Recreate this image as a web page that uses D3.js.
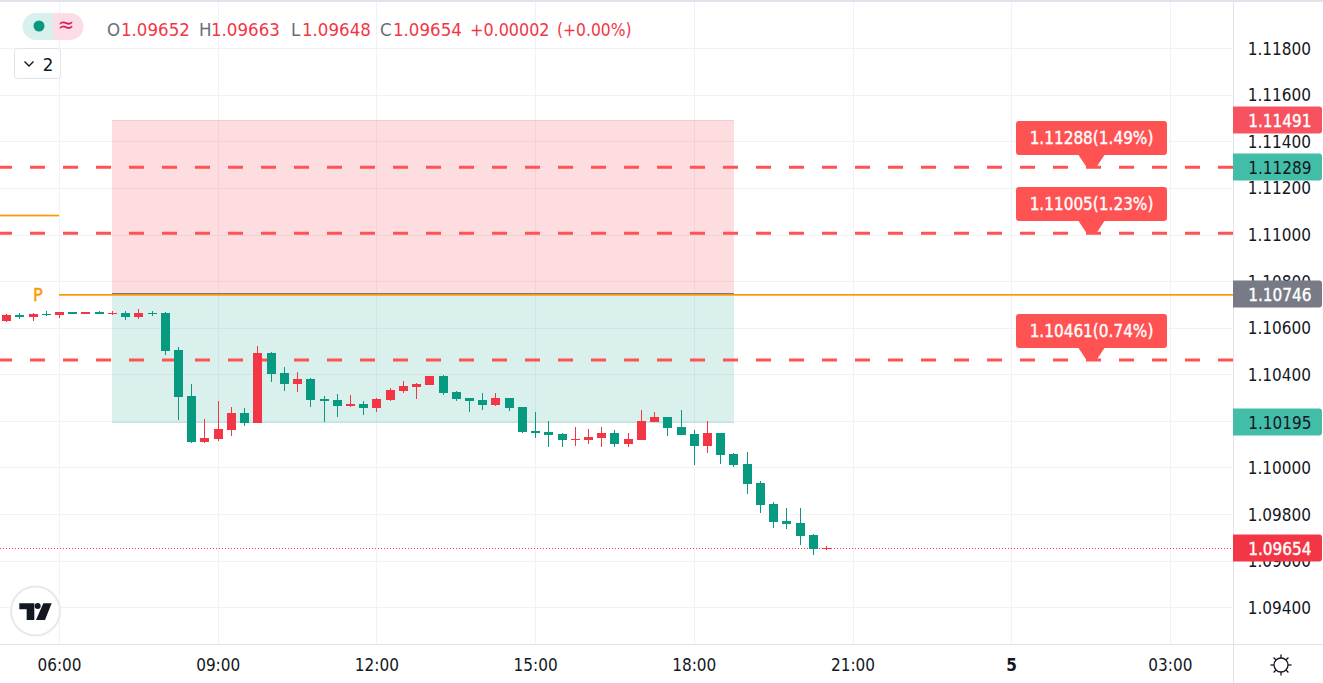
<!DOCTYPE html>
<html><head><meta charset="utf-8">
<script src="https://cdnjs.cloudflare.com/ajax/libs/d3/7.8.5/d3.min.js"></script>
<style>html,body{margin:0;padding:0;background:#fff;overflow:hidden}svg{display:block}text{font-family:"DejaVu Sans Condensed","DejaVu Sans",sans-serif;font-stretch:condensed}</style>
</head><body><svg id="c" width="1323" height="683"></svg>
<script>
// Data: 15-minute candles starting at 05:00, prices in units of 1e-5
const opens=[110629,110655,110646,110659,110655,110667,110659,110667,110659,110663,110646,110663,110663,110504,110307,110110,110122,110161,110234,110191,110491,110406,110358,110380,110294,110290,110264,110273,110255,110290,110328,110346,110354,110393,110324,110298,110290,110268,110298,110260,110157,110153,110144,110118,110118,110127,110148,110101,110118,110195,110217,110174,110144,110092,110148,110058,110015,109934,109843,109771,109762,109710,109652];
const highs=[110659,110663,110663,110672,110667,110667,110667,110672,110672,110672,110680,110672,110667,110517,110358,110208,110286,110260,110255,110522,110496,110431,110410,110384,110307,110316,110311,110286,110298,110341,110371,110363,110393,110397,110328,110298,110320,110320,110298,110260,110238,110200,110148,110174,110165,110174,110161,110148,110247,110238,110217,110247,110161,110200,110148,110062,110067,109942,109852,109826,109826,109715,109663];
const lows=[110625,110637,110629,110650,110642,110659,110659,110659,110655,110633,110637,110650,110483,110204,110105,110105,110114,110135,110178,110191,110367,110328,110324,110260,110195,110217,110260,110225,110238,110286,110320,110294,110354,110311,110286,110238,110247,110264,110243,110148,110127,110088,110088,110092,110101,110088,110088,110088,110118,110195,110135,110140,110011,110062,110015,110002,109886,109805,109741,109736,109667,109624,109648];
const closes=[110655,110646,110659,110655,110667,110659,110667,110659,110663,110646,110663,110659,110500,110303,110110,110127,110165,110234,110191,110491,110401,110358,110380,110290,110286,110264,110273,110255,110294,110333,110350,110358,110393,110320,110294,110286,110268,110298,110255,110153,110148,110140,110118,110122,110131,110148,110101,110122,110200,110217,110170,110140,110092,110148,110054,110011,109929,109839,109766,109758,109706,109650,109654];
const firstHour=5, stepHours=0.25;

const priceTicks=[1.118,1.116,1.114,1.112,1.11,1.108,1.106,1.104,1.102,1.1,1.098,1.096,1.094];
const timeTicks=[6,9,12,15,18,21,24,27];
const timeLabels=["06:00","09:00","12:00","15:00","18:00","21:00","5","03:00"];

const targetPrices=[1.11289,1.11005,1.10461];
const targetLabels=["1.11288(1.49%)","1.11005(1.23%)","1.10461(0.74%)"];
const position={start:7,end:18.75,top:1.11491,entry:1.10746,stop:1.10195};
const pivotPrice=1.10746, priorPivot=1.11084;
const priceTags=[
 {p:1.11491,t:"1.11491",bg:"#f7525f",fg:"#fff"},
 {p:1.11289,t:"1.11289",bg:"#42bda8",fg:"#131722"},
 {p:1.10746,t:"1.10746",bg:"#787b86",fg:"#fff"},
 {p:1.10195,t:"1.10195",bg:"#42bda8",fg:"#131722"},
 {p:1.09654,t:"1.09654",bg:"#f23645",fg:"#fff"}];
const legendParts=[["O","#6a6d78",107,18.5],["1.09652","#f23645",121,18.5],["H","#6a6d78",199,18.5],["1.09663","#f23645",211,18.5],["L","#6a6d78",291,18.5],["1.09648","#f23645",302,18.5],["C","#6a6d78",380,18.5],["1.09654","#f23645",393,18.5],["+0.00002","#f23645",470,17.8],["(+0.00%)","#f23645",557,17.3]];

const W=1233,H=644;
const x=d3.scaleLinear().domain([6,27]).range([59.5,1170.4]);
const y=d3.scaleLinear().domain([1.094,1.118]).range([607.3,48.1]);
const px=v=>Math.round(y(v));
const GREEN="#089981",RED="#f23645",LAB="#ff5252",ORANGE="#ff9800",GRID="#f0f2f5",LINE="#e0e3eb",INK="#131722";
const svg=d3.select("#c");
svg.append("rect").attr("width",1323).attr("height",2).attr("fill",LINE);

// grid
const grid=svg.append("g").attr("shape-rendering","crispEdges");
grid.selectAll(".h").data(priceTicks).join("line").attr("x1",0).attr("x2",W)
 .attr("y1",d=>px(d)+.5).attr("y2",d=>px(d)+.5).attr("stroke",GRID);
grid.selectAll(".v").data(timeTicks).join("line").attr("y1",2).attr("y2",H)
 .attr("x1",d=>Math.floor(x(d))+.5).attr("x2",d=>Math.floor(x(d))+.5).attr("stroke",GRID);

// position zones
const z=svg.append("g").attr("shape-rendering","crispEdges");
const zx=x(position.start),zw=x(position.end)-zx;
z.append("rect").attr("x",zx).attr("width",zw).attr("y",px(position.top)).attr("height",px(position.entry)-px(position.top))
 .attr("fill","#f23645").attr("fill-opacity",.17);
z.append("rect").attr("x",zx).attr("width",zw).attr("y",px(position.entry)).attr("height",px(position.stop)+1-px(position.entry))
 .attr("fill","#089981").attr("fill-opacity",.15);
z.append("line").attr("x1",zx).attr("x2",zx+zw).attr("y1",px(position.entry)-.5).attr("y2",px(position.entry)-.5).attr("stroke","#787b86");
z.append("line").attr("x1",zx).attr("x2",zx+zw).attr("y1",px(position.top)+.5).attr("y2",px(position.top)+.5).attr("stroke","#f23645").attr("stroke-opacity",.12);
z.append("line").attr("x1",zx).attr("x2",zx+zw).attr("y1",px(position.stop)+.5).attr("y2",px(position.stop)+.5).attr("stroke","#089981").attr("stroke-opacity",.12);

// target dashed lines + labels
const t=svg.append("g");
t.selectAll("line").data(targetPrices).join("line").attr("x1",-3).attr("x2",W)
 .attr("y1",d=>y(d)).attr("y2",d=>y(d)).attr("stroke",LAB).attr("stroke-width",3).attr("stroke-dasharray","15 18");

// pivots
svg.append("rect").attr("x",59).attr("width",W-59).attr("y",px(pivotPrice)).attr("height",1.7).attr("fill",ORANGE);
svg.append("rect").attr("x",0).attr("width",59).attr("y",px(priorPivot)-.3).attr("height",1.7).attr("fill",ORANGE);
svg.append("text").attr("x",38).attr("y",301).attr("text-anchor","middle").attr("fill",ORANGE).attr("font-size",18).attr("stroke",ORANGE).attr("stroke-width",.4).text("P");

// current price dotted
svg.append("line").attr("x1",0).attr("x2",W-2).attr("y1",548.5).attr("y2",548.5).attr("stroke",RED).attr("stroke-dasharray","1 2").attr("shape-rendering","crispEdges");

// candles
const idx=d3.range(opens.length);
const cg=svg.append("g").attr("shape-rendering","crispEdges");
const cl=i=>Math.round(x(firstHour+i*stepHours)-4.5);
const col=i=>closes[i]>=opens[i]?RED:GREEN;
const P=v=>y(v/1e5);
cg.selectAll(".w").data(idx).join("rect").attr("x",i=>cl(i)+4).attr("width",1)
 .attr("y",i=>Math.round(P(highs[i]))).attr("height",i=>Math.max(1,Math.round(P(lows[i]))-Math.round(P(highs[i]))))
 .attr("fill",col);
cg.selectAll(".b").data(idx).join("rect").attr("x",cl).attr("width",9)
 .attr("y",i=>Math.round(P(Math.max(opens[i],closes[i]))))
 .attr("height",i=>Math.max(1,Math.round(P(Math.min(opens[i],closes[i])))-Math.round(P(Math.max(opens[i],closes[i])))))
 .attr("fill",col);

// target labels
const lg=svg.append("g");
targetPrices.forEach((p,k)=>{
 const ly=Math.round(y(p)),bx=1016,bw=151,cx=bx+bw/2,bot=ly-12,top=bot-34;
 lg.append("path").attr("fill",LAB).attr("d",`M${cx-13} ${bot}L${cx-5} ${ly}L${cx+5} ${ly}L${cx+13} ${bot}Z`);
 lg.append("rect").attr("x",bx).attr("y",top).attr("width",bw).attr("height",34).attr("rx",3).attr("fill",LAB);
 lg.append("text").attr("x",cx).attr("y",top+23).attr("text-anchor","middle").attr("fill","#fff").attr("font-size",17).attr("stroke","#fff").attr("stroke-width",.35).text(targetLabels[k]);
});

// axes panels
svg.append("rect").attr("x",W).attr("y",2).attr("width",90).attr("height",681).attr("fill","#fff");
svg.append("rect").attr("x",0).attr("y",H).attr("width",1323).attr("height",39).attr("fill","#fff");
const ax=svg.append("g").attr("shape-rendering","crispEdges");
ax.append("line").attr("x1",W+.5).attr("x2",W+.5).attr("y1",2).attr("y2",683).attr("stroke",LINE).attr("stroke-width",1);
ax.append("line").attr("x1",0).attr("x2",1323).attr("y1",H+.5).attr("y2",H+.5).attr("stroke",LINE);
svg.selectAll(".pt").data(priceTicks).join("text").attr("x",1311).attr("text-anchor","end")
 .attr("y",d=>y(d)+6.5).attr("font-size",17).attr("fill","#131722").text(d=>d.toFixed(5));
svg.selectAll(".tt").data(timeTicks).join("text").attr("x",d=>x(d)).attr("y",671).attr("text-anchor","middle")
 .attr("font-size",17).attr("fill",INK).attr("font-weight",(d,i)=>timeLabels[i]==="5"?"bold":"normal").text((d,i)=>timeLabels[i]);

// price tags
priceTags.forEach(d=>{
 const c=Math.round(y(d.p)),tp=c-13.5;
 svg.append("path").attr("fill",d.bg).attr("d",`M${W} ${tp}H1319a3 3 0 0 1 3 3V${tp+24}a3 3 0 0 1 -3 3H${W}Z`);
 const tx=svg.append("text").attr("x",1311.5).attr("y",c+6.5).attr("text-anchor","end").attr("font-size",17).attr("fill",d.fg).text(d.t);
 if(d.fg==="#fff")tx.attr("stroke","#fff").attr("stroke-width",.35);
});

// legend
const pillG=svg.append("g");
pillG.append("path").attr("fill","#d9f1ec").attr("d","M53 13H36a13.5 13.5 0 0 0 0 27H53Z");
pillG.append("path").attr("fill","#fcdde5").attr("d","M53 13H70a13.5 13.5 0 0 1 0 27H53Z");
pillG.append("circle").attr("cx",39).attr("cy",26).attr("r",5.5).attr("fill",GREEN);
pillG.append("text").attr("x",66).attr("y",32).attr("text-anchor","middle").attr("font-size",22).attr("fill","#d81b60").text("≈");
svg.selectAll(".lg").data(legendParts).join("text").attr("x",d=>d[2]).attr("y",36).attr("font-size",d=>d[3]).attr("fill",d=>d[1]).text(d=>d[0]);

// collapse button
svg.append("rect").attr("x",14.5).attr("y",48.5).attr("width",46).attr("height",30).attr("rx",3).attr("fill","#fff").attr("stroke",LINE);
svg.append("path").attr("d","M24.5 61.5l4.5 4.5l4.5 -4.5").attr("fill","none").attr("stroke",INK).attr("stroke-width",1.4);
svg.append("text").attr("x",48).attr("y",70.5).attr("text-anchor","middle").attr("font-size",18.5).attr("fill",INK).text("2");

// logo
svg.append("circle").attr("cx",35.5).attr("cy",611).attr("r",24.5).attr("fill","#fff").attr("stroke","#e9e9ec").attr("stroke-width",2);
const lo=svg.append("g").attr("fill",INK).attr("transform","translate(0,570) scale(.3333)");
lo.append("path").attr("d","M58 100H103V150H80V118H58Z");
lo.append("circle").attr("cx",113).attr("cy",108).attr("r",9);
lo.append("path").attr("d","M130 100H155L135 150H108Z");

// sun icon
const s=svg.append("g").attr("transform","translate(1281,665)").attr("stroke",INK).attr("fill","none").attr("stroke-width",1.3);
s.append("circle").attr("r",7);
d3.range(8).forEach(k=>{const a=k*Math.PI/4;s.append("line").attr("x1",7*Math.cos(a)).attr("y1",7*Math.sin(a)).attr("x2",10.5*Math.cos(a)).attr("y2",10.5*Math.sin(a));});
</script></body></html>
